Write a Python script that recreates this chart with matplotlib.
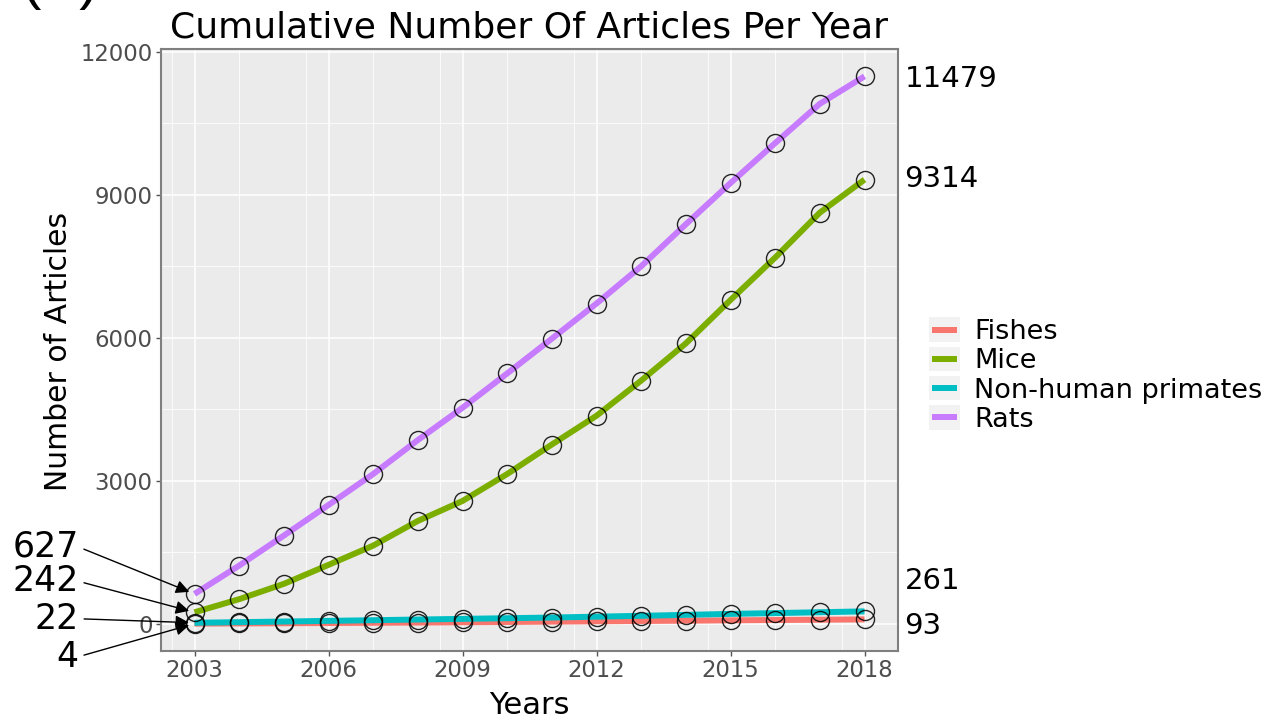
import matplotlib
matplotlib.use("Agg")
import matplotlib.pyplot as plt
from matplotlib.legend_handler import HandlerLine2D
from matplotlib.lines import Line2D
from matplotlib.patches import Rectangle
from matplotlib.ticker import MultipleLocator

plt.rcParams['font.family'] = ['DejaVu Sans']

# Cumulative article counts per year
years = list(range(2003, 2019))
groups = ["Fishes", "Mice", "Non-human primates", "Rats"]
fishes = [4, 8, 12, 17, 22, 27, 33, 39, 46, 53, 60, 66, 73, 80, 86, 93]
mice = [242, 517, 838, 1236, 1640, 2157, 2576, 3141, 3760, 4363, 5100,
        5880, 6790, 7679, 8622, 9314]
primates = [22, 35, 48, 62, 76, 90, 104, 118, 132, 150, 168, 188, 208,
            225, 243, 261]
rats = [627, 1221, 1850, 2492, 3141, 3853, 4530, 5250, 5979, 6716, 7497,
        8377, 9242, 10080, 10904, 11479]
x_ticks = [2003, 2006, 2009, 2012, 2015, 2018]
y_ticks = [0, 3000, 6000, 9000, 12000]

series = [fishes, mice, primates, rats]
colors = ["#F8766D", "#7CAE00", "#00BFC4", "#C77CFF"]

# label offsets (points) for the first / last value of each series
start_offsets = [(-83.5, -23.8), (-83.5, 22.3), (-83.5, 2.9), (-83.5, 33.8)]
end_offsets = [(28.8, -4.5), (28.8, 0.7), (28.8, 22.0), (28.8, -1.8)]

W, H = 1278, 724
fig = plt.figure(figsize=(W / 100, H / 100), dpi=100)
ax = fig.add_axes([161 / W, 73 / H, 737 / W, 602 / H])

ax.set_facecolor("#EBEBEB")
for s in ax.spines.values():
    s.set_color("#7F7F7F")
    s.set_linewidth(1.5)

ax.xaxis.set_major_locator(plt.FixedLocator(x_ticks))
ax.xaxis.set_minor_locator(MultipleLocator(1.5))
ax.yaxis.set_major_locator(plt.FixedLocator(y_ticks))
ax.yaxis.set_minor_locator(MultipleLocator(1500))
ax.grid(which="major", color="white", lw=1.1)
ax.grid(which="minor", color="white", lw=0.55)
ax.set_axisbelow(True)
ax.tick_params(which="major", length=3.5, width=1, color="#555555",
               labelsize=16.4, labelcolor="#4D4D4D", pad=2.5)
ax.tick_params(which="minor", length=0)

for name, vals, c in zip(groups, series, colors):
    ax.plot(years, vals, color=c, lw=4.3, solid_capstyle="butt",
            zorder=3, label=name)
for vals in series:
    ax.plot(years, vals, ls="none", marker="o", ms=13, mfc="none",
            mec="black", mew=1.0, alpha=0.85, zorder=4)

# data range with 5% expansion on both axes
all_vals = [v for s in series for v in s]
lo, hi = min(all_vals), max(all_vals)
ypad = 0.05 * (hi - lo)
ax.set_ylim(lo - ypad, hi + ypad)
xpad = 0.05 * (years[-1] - years[0])
ax.set_xlim(years[0] - xpad, years[-1] + xpad)

for vals, off in zip(series, start_offsets):
    ax.annotate(f"{vals[0]}", xy=(years[0], vals[0]), xytext=off,
                textcoords="offset points", ha="right", va="center",
                fontsize=25, color="black", annotation_clip=False,
                arrowprops=dict(arrowstyle="-|>", color="black", lw=1.0,
                                mutation_scale=20, shrinkA=2, shrinkB=4,
                                relpos=(1.0, 0.5)))
for vals, off in zip(series, end_offsets):
    ax.annotate(f"{vals[-1]}", xy=(years[-1], vals[-1]), xytext=off,
                textcoords="offset points", ha="left", va="center",
                fontsize=21, color="black", annotation_clip=False)

cx = (161 + 898) / 2 / W
fig.text(cx, 1 - 37 / H, "Cumulative Number Of Articles Per Year",
         ha="center", va="baseline", fontsize=26)
fig.text(cx, 1 - 714 / H, "Years", ha="center", va="baseline", fontsize=22)
fig.text(59 / W, 1 - 351 / H, "Number of Articles", ha="center",
         va="center", rotation=90, fontsize=21.5)
fig.text(21 / W, 1 + 2 / H, "(A)", ha="left", va="baseline", fontsize=42,
         family="Liberation Sans")


class KeyHandler(HandlerLine2D):
    def create_artists(self, legend, orig_handle, xdescent, ydescent,
                       width, height, fontsize, trans):
        pad = 2
        bg = Rectangle((-xdescent - pad, -ydescent - pad), width + 2 * pad,
                       height + 2 * pad, facecolor="#F2F2F2",
                       edgecolor="none", transform=trans)
        arts = super().create_artists(legend, orig_handle, xdescent,
                                      ydescent, width, height, fontsize,
                                      trans)
        return [bg] + arts


key_handles = [Line2D([], [], color=c, lw=4.3, solid_capstyle="butt")
               for c in colors]
fig.legend(key_handles, groups, loc="center left",
           bbox_to_anchor=(913 / W, 1 - 376 / H), frameon=False,
           fontsize=19.5, handlelength=0.92, handletextpad=0.65,
           labelspacing=0.12, borderpad=0.2,
           handler_map={Line2D: KeyHandler()})

fig.savefig("out.png", dpi=100)
